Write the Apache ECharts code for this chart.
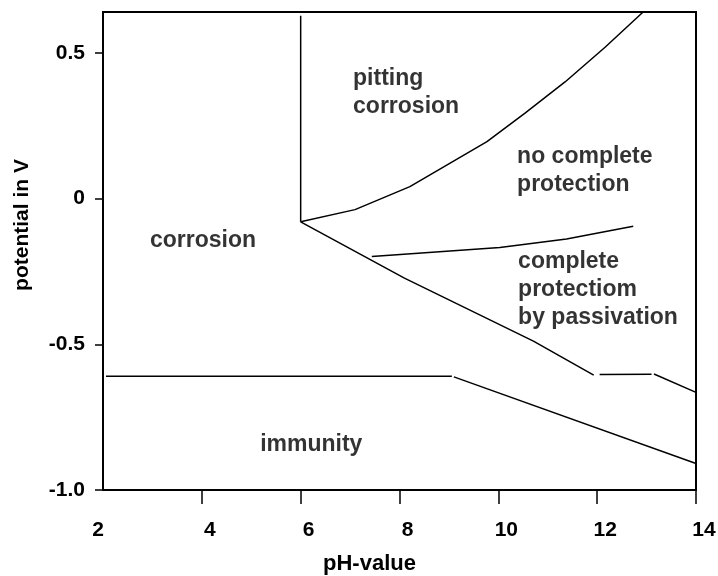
<!DOCTYPE html>
<html>
<head>
<meta charset="utf-8">
<script src="https://cdn.jsdelivr.net/npm/echarts@6/dist/echarts.min.js"></script>
<style>
  html, body { margin: 0; padding: 0; background: #fff; }
  #chart { width: 718px; height: 576px; }
</style>
</head>
<body>
<div id="chart"></div>
<script>
// tick values and labels
const xTicks = [2, 4, 6, 8, 10, 12, 14]
const xTickMarks = [4, 6, 8, 10, 12, 14]
const yTicks = [-1, -0.5, 0, 0.5]
const yTickLabels = ['-1.0', '-0.5', '0', '0.5']

// boundary lines [pH, potential]
const pittingWall = [[6, 0.627], [6, -0.08]]
const pittingCurve = [[6, -0.08], [7.1, -0.038], [8.21, 0.041], [9.77, 0.195], [10.54, 0.293], [11.35, 0.4], [12.16, 0.519], [12.93, 0.64]]
const passiveUpper = [[7.44, -0.199], [10.03, -0.168], [11.38, -0.139], [12.73, -0.095]]
const passiveLower1 = [[6, -0.08], [8.1, -0.273], [10.71, -0.489], [11.93, -0.606]]
const passiveLower2 = [[12.05, -0.604], [13.1, -0.603]]
const passiveLower3 = [[13.15, -0.602], [14, -0.665]]
const immunityFlat = [[2.06, -0.61], [9.06, -0.61]]
const immunitySlope = [[9.1, -0.612], [14, -0.909]]

// region names [pH, potential, text]
const regionLabels = [
  [2.95, -0.146, 'corrosion'],
  [7.06, 0.362, 'pitting\ncorrosion'],
  [10.38, 0.094, 'no complete\nprotection'],
  [10.4, -0.312, 'complete\nprotectiom\nby passivation'],
  [5.18, -0.843, 'immunity']
]

const font = '"Liberation Sans", Arial, Helvetica, sans-serif'

const boundaryLine = (data) => ({
  type: 'line',
  data: data,
  showSymbol: false,
  silent: true,
  lineStyle: { color: '#000', width: 1.5 }
})

const tickText = { color: '#000', fontSize: 21, fontWeight: 'bold', fontFamily: font }

const chart = echarts.init(document.getElementById('chart'))
chart.setOption({
  animation: false,
  textStyle: { fontFamily: font },
  grid: {
    left: 103,
    right: 22,
    top: 12,
    bottom: 86,
    outerBoundsMode: 'none',
    show: true,
    borderColor: '#000',
    borderWidth: 2
  },
  xAxis: {
    type: 'value',
    min: 2,
    max: 14,
    interval: 2,
    name: 'pH-value',
    nameLocation: 'middle',
    nameGap: 63,
    nameTextStyle: { color: '#000', fontSize: 22, fontWeight: 'bold', padding: [0, 60, 0, 0] },
    axisLine: { show: true, onZero: false, lineStyle: { color: '#000', width: 2 } },
    axisTick: { show: true, customValues: xTickMarks, length: 14, lineStyle: { color: '#000', width: 1.5 } },
    axisLabel: {
      customValues: xTicks,
      margin: 30,
      formatter: (v) => (v === 2 ? '{first|' + v + '}' : '{rest|' + v + '}'),
      rich: {
        first: Object.assign({ padding: [0, 10, 0, 0] }, tickText),
        rest: Object.assign({ padding: [0, 0, 0, 16] }, tickText)
      }
    },
    splitLine: { show: false }
  },
  yAxis: {
    type: 'value',
    min: -1,
    max: 0.64,
    interval: 0.5,
    name: 'potential in V',
    nameLocation: 'middle',
    nameGap: 70,
    nameRotate: 90,
    nameTextStyle: { color: '#000', fontSize: 21, fontWeight: 'bold', padding: [0, 0, 0, 52] },
    axisLine: { show: true, onZero: false, lineStyle: { color: '#000', width: 2 } },
    axisTick: { show: true, customValues: yTicks, length: 8, lineStyle: { color: '#000', width: 1.5 } },
    axisLabel: {
      customValues: yTicks,
      color: '#000',
      fontSize: 21,
      fontWeight: 'bold',
      margin: 18,
      formatter: (v) => {
        const i = yTicks.indexOf(v)
        return i >= 0 ? yTickLabels[i] : ''
      }
    },
    splitLine: { show: false }
  },
  series: [
    boundaryLine(pittingWall),
    boundaryLine(pittingCurve),
    boundaryLine(passiveUpper),
    boundaryLine(passiveLower1),
    boundaryLine(passiveLower2),
    boundaryLine(passiveLower3),
    boundaryLine(immunityFlat),
    boundaryLine(immunitySlope),
    {
      type: 'scatter',
      symbolSize: 0,
      silent: true,
      data: regionLabels.map(d => ({ value: [d[0], d[1]], text: d[2] })),
      label: {
        show: true,
        position: 'right',
        distance: 0,
        color: '#000',
        fontSize: 23,
        fontWeight: 'bold',
        lineHeight: 28,
        align: 'left',
        formatter: (p) => p.data.text
      }
    }
  ]
})
</script>
</body>
</html>
